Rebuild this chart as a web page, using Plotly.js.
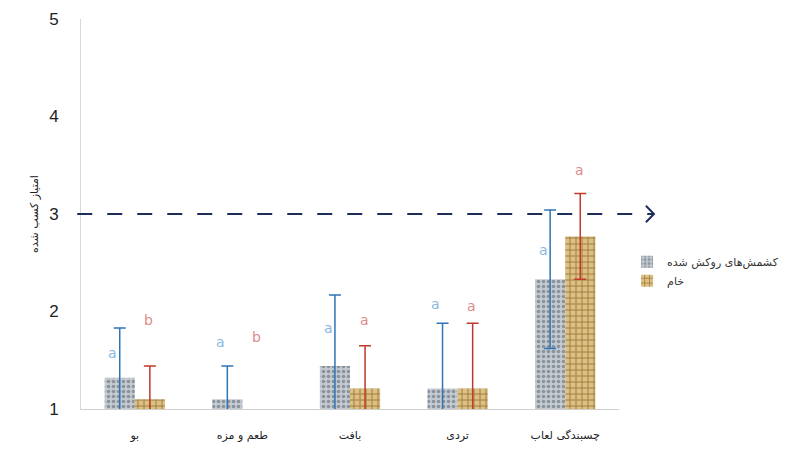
<!DOCTYPE html>
<html><head><meta charset="utf-8">
<script src="https://cdn.plot.ly/plotly-3.0.1.min.js"></script>
<style>body{margin:0;background:#fff}#c{width:799px;height:460px}</style>
</head><body><div id="c"></div>
<script>
var categories = ["بو", "طعم و مزه", "بافت", "تردی", "چسبندگی لعاب"];
var seriesNames = ["کشمش‌های روکش شده", "خام"];
var coated = [1.32, 1.10, 1.44, 1.21, 2.33];
var coatedErr = [0.51, 0.34, 0.73, 0.67, 0.71];
var raw = [1.10, null, 1.21, 1.21, 2.77];
var rawErr = [0.34, null, 0.44, 0.67, 0.44];
var coatedLetters = ["a", "a", "a", "a", "a"];
var coatedLetterY = [1.57, 1.69, 1.83, 2.08, 2.63];
var rawLetters = ["b", "b", "a", "a", "a"];
var rawLetterY = [1.91, 1.74, 1.91, 2.06, 3.45];
var thresholdY = 3;

var traces = [
  {type:'bar', name:seriesNames[0], x:categories, y:coated,
   error_y:{type:'data', array:coatedErr, visible:true, color:'#2e75b6', thickness:1.5, width:6},
   marker:{color:'#b4bcc6', line:{width:0}, pattern:{shape:'.', bgcolor:'#c3cad2', fgcolor:'#8a929c', size:5, solidity:0.4}}},
  {type:'bar', name:seriesNames[1], x:categories, y:raw,
   error_y:{type:'data', array:rawErr, visible:true, color:'#c0392b', thickness:1.5, width:6},
   marker:{color:'#d6b77a', line:{width:0}, pattern:{shape:'+', bgcolor:'#dcc084', fgcolor:'#a07c40', size:6, solidity:0.3}}}
];

var ann = [];
for (var i=0;i<categories.length;i++){
  ann.push({x:categories[i], y:coatedLetterY[i], text:coatedLetters[i], showarrow:false, xshift:-22,
    font:{size:14, color:'#8ab8e0', family:'DejaVu Sans'}});
  ann.push({x:categories[i], y:rawLetterY[i], text:rawLetters[i], showarrow:false, xshift:14,
    font:{size:14, color:'#e08a8a', family:'DejaVu Sans'}});
}

var layout = {
  width:799, height:460,
  margin:{l:81, r:180, t:19, b:51, autoexpand:false},
  paper_bgcolor:'#fff', plot_bgcolor:'#fff',
  barmode:'group', bargap:0.44, bargroupgap:0,
  showlegend:true,
  legend:{x:1.015, y:0.415, xanchor:'left', yanchor:'top', font:{size:11, family:'DejaVu Sans', color:'#333'},
    bgcolor:'rgba(0,0,0,0)', tracegroupgap:8},
  xaxis:{showgrid:false, showline:true, linecolor:'#cfcfcf', linewidth:1, ticks:'', ticklabelstandoff:16,
    tickfont:{size:11, family:'DejaVu Sans', color:'#222'}, fixedrange:true},
  yaxis:{range:[1,5], dtick:1, showgrid:false, showline:true, linecolor:'#d9d9d9', linewidth:1,
    ticks:'', ticklabelstandoff:18, zeroline:false,
    tickfont:{size:17, family:'Liberation Sans', color:'#222'},
    title:{text:'امتیاز کسب شده', font:{size:11, family:'DejaVu Sans', color:'#222'}, standoff:8}},
  annotations:ann,
  shapes:[
    {type:'line', xref:'paper', yref:'y', x0:-0.007, x1:1.065, y0:thresholdY, y1:thresholdY,
     line:{color:'#1f2d5a', width:2, dash:'longdash'}},
    {type:'path', xref:'paper', yref:'y', path:'M 1.05 3.085 L 1.065 3.0 L 1.05 2.915',
     line:{color:'#1f2d5a', width:2}}
  ]
};
Plotly.newPlot('c', traces, layout, {displayModeBar:false, staticPlot:true});
</script></body></html>
